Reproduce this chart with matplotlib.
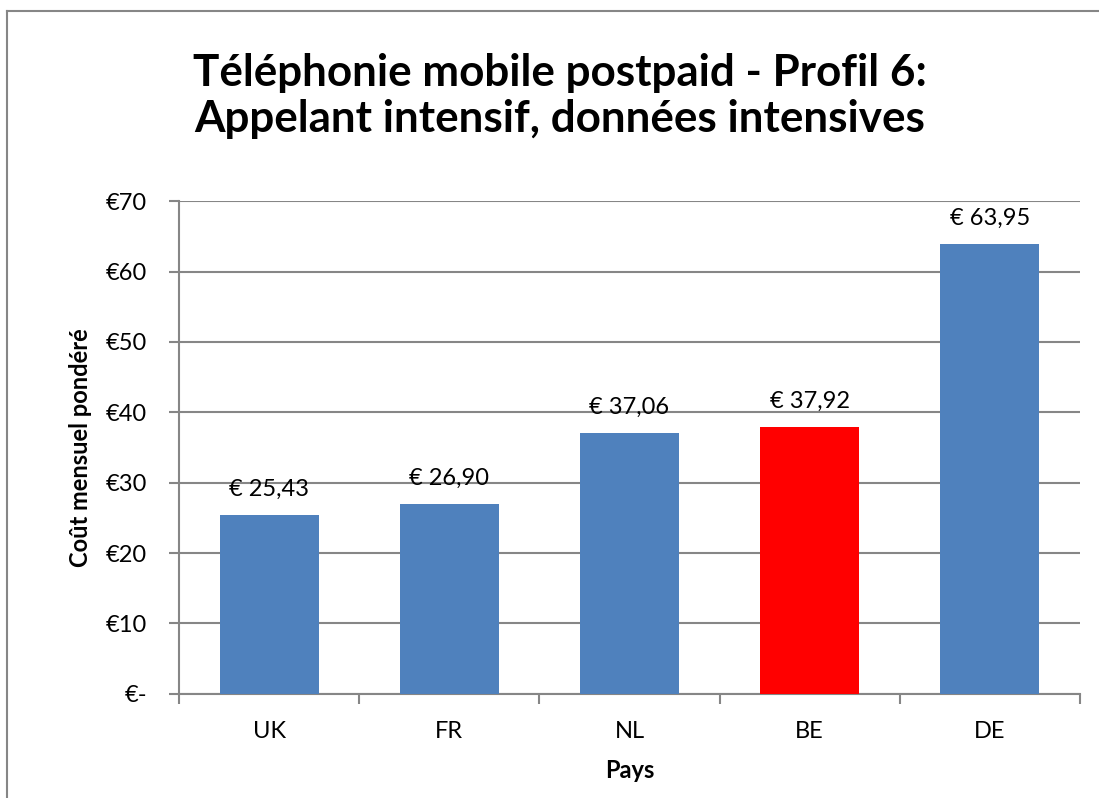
import matplotlib
matplotlib.use("Agg")
import matplotlib.pyplot as plt
from matplotlib.lines import Line2D

plt.rcParams['font.family'] = ['Lato', 'DejaVu Sans']

categories = ["UK", "FR", "NL", "BE", "DE"]
values = [25.43, 26.90, 37.06, 37.92, 63.95]
labels = ["€ 25,43", "€ 26,90", "€ 37,06", "€ 37,92", "€ 63,95"]
colors = ["#4F81BD", "#4F81BD", "#4F81BD", "#FF0000", "#4F81BD"]
yticks = [0, 10, 20, 30, 40, 50, 60, 70]
ytick_labels = ["€-", "€10", "€20", "€30", "€40", "€50", "€60", "€70"]

W, H = 1099, 798
FS = 17
fig = plt.figure(figsize=(W / 100, H / 100), dpi=100)
ax = fig.add_axes([179 / W, 1 - 693.7 / H, (1080 - 179) / W, (693.7 - 201.3) / H])

x = list(range(len(categories)))
ax.bar(x, values, width=0.55, color=colors, zorder=3)
for xi, v, lab in zip(x, values, labels):
    ax.annotate(lab, (xi, v), xytext=(0, 11), textcoords="offset points",
                ha="center", va="bottom", fontsize=FS, color="black")

ax.set_xlim(-0.5, len(categories) - 0.5)
ax.set_ylim(0, 70)
ax.set_yticks(yticks)
ax.set_yticklabels(ytick_labels, fontsize=FS)
ax.set_xticks(x)
ax.set_xticklabels(categories, fontsize=FS)
ax.set_xticks([i - 0.5 for i in range(len(categories) + 1)], minor=True)
ax.tick_params(axis="x", which="major", length=0, pad=20)
ax.tick_params(axis="x", which="minor", length=7, color="#868686", width=1.5)
ax.tick_params(axis="y", length=7, color="#868686", width=1.5, pad=16)

ax.yaxis.grid(True, color="#868686", linewidth=1.5, zorder=0)
ax.set_axisbelow(True)
for s in ["top", "right"]:
    ax.spines[s].set_visible(False)
for s in ["left", "bottom"]:
    ax.spines[s].set_color("#868686")
    ax.spines[s].set_linewidth(1.5)

ax.set_ylabel("Coût mensuel pondéré", fontsize=FS, fontweight="bold", labelpad=10)
ax.set_xlabel("Pays", fontsize=FS, fontweight="bold", labelpad=12)

fig.text(560 / W, 1 - 96 / H, "Téléphonie mobile postpaid - Profil 6:\nAppelant intensif, données intensives",
         ha="center", va="center", fontsize=31.7, fontweight="bold", linespacing=1.2)

# chart frame (cropped on right and bottom)
fig.add_artist(Line2D([7 / W, 7 / W], [0, 1 - 11 / H], transform=fig.transFigure,
                      color="#868686", linewidth=1.5))
fig.add_artist(Line2D([7 / W, 1], [1 - 11 / H, 1 - 11 / H], transform=fig.transFigure,
                      color="#868686", linewidth=1.5))

fig.savefig("out.png", dpi=100)
